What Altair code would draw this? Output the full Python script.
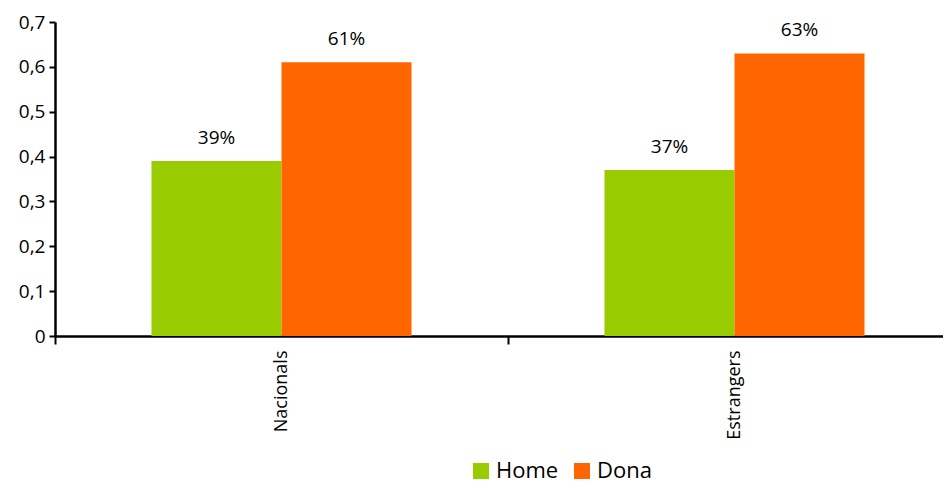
import altair as alt
import pandas as pd

categories = ["Nacionals", "Estrangers"]
series = ["Home", "Dona"]
home = [0.39, 0.37]
dona = [0.61, 0.63]
colors = ["#99CC00", "#FF6600"]

rows = []
for i, c in enumerate(categories):
    rows.append({"cat": c, "sexe": "Home", "val": home[i]})
    rows.append({"cat": c, "sexe": "Dona", "val": dona[i]})
df = pd.DataFrame(rows)

FONT = "Open Sans"

x = alt.X("cat:N", sort=categories, title=None,
          scale=alt.Scale(range=[0, 906], paddingInner=0.426, paddingOuter=0.213),
          axis=alt.Axis(labelAngle=-90, labelFontSize=18, labelFont=FONT, labelColor="#000",
                        domainColor="#000", domainWidth=2.5, tickColor="#000", tickWidth=2,
                        tickSize=8, bandPosition=0.5, tickOffset=-226.5, labelOffset=226.5,
                        labelPadding=6))
y = alt.Y("val:Q", title=None,
          scale=alt.Scale(domain=[0, 0.7], nice=False),
          axis=alt.Axis(values=[0, 0.1, 0.2, 0.3, 0.4, 0.5, 0.6, 0.7], grid=False,
                        labelExpr="datum.value == 0 ? '0' : replace(format(datum.value, '.1f'), '.', ',')",
                        labelFontSize=19, labelFont=FONT, labelColor="#000",
                        domainColor="#000", domainWidth=2.5, tickColor="#000", tickWidth=2,
                        tickSize=6, labelPadding=4))

base = alt.Chart(df).encode(
    x=x,
    xOffset=alt.XOffset("sexe:N", sort=series),
    y=y,
)

bars = base.mark_bar().encode(
    color=alt.Color("sexe:N", sort=series,
                    scale=alt.Scale(domain=series, range=colors),
                    legend=alt.Legend(title=None, orient="none", legendX=415, legendY=438,
                                      direction="horizontal", symbolType="square",
                                      symbolSize=256, symbolStrokeWidth=0, labelFontSize=22,
                                      labelFont=FONT, labelColor="#000", columnPadding=12,
                                      labelOffset=4))
)

labels = base.mark_text(dy=-13, baseline="bottom", fontSize=19, font=FONT, color="#000").encode(
    text=alt.Text("val:Q", format=".0%")
)

chart = (bars + labels).properties(
    width=888, height=314,
    autosize="none",
    padding={"left": 47, "top": 14, "right": 0, "bottom": 151},
).configure_view(stroke=None)

chart.save("out.html", embed_options={"renderer": "svg", "actions": False})
